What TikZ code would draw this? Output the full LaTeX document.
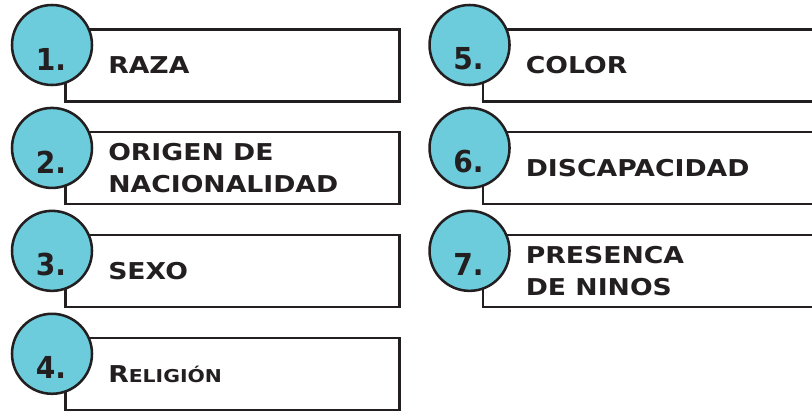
\documentclass[tikz,border=0pt]{standalone}
\usepackage{fontspec}
\usepackage{tikz}
\usetikzlibrary{positioning}
\newfontfamily\boxfont[FakeStretch=1.15]{DejaVu Sans}
\newfontfamily\numfont[FakeStretch=0.93]{DejaVu Sans}
\definecolor{ink}{RGB}{35,31,32}
\definecolor{lagoon}{RGB}{108,204,219}

\begin{document}
\begin{tikzpicture}[
    node distance=0.71cm,
    item/.style={rectangle, draw=ink, line width=1.8pt, minimum width=8.35cm, minimum height=1.8cm, inner sep=0pt},
    badge/.style={circle, draw=ink, line width=1.8pt, fill=lagoon, minimum size=2cm, inner sep=0pt},
    num/.style={font=\numfont\bfseries\fontsize{21.5}{21.5}\selectfont, text=ink, inner sep=0pt},
    lab/.style={font=\boxfont\bfseries\fontsize{16.5}{22.8}\selectfont, text=ink, align=left, inner sep=0pt, anchor=west}
]
\useasboundingbox (0,0) rectangle (20.3,-10.25);
\clip (0,0) rectangle (20.3,-10.25);

% left column
\node[item, anchor=north west] (b1) at (1.6,-0.7) {};
\node[item, below=of b1] (b2) {};
\node[item, below=of b2] (b3) {};
\node[item, below=of b3] (b4) {};

% right column, boxes run off the page
\node[item, minimum width=8.8cm, anchor=north west] (b5) at ([xshift=2.025cm]b1.north east) {};
\node[item, minimum width=8.8cm, below=of b5] (b6) {};
\node[item, minimum width=8.8cm, below=of b6] (b7) {};

% numbered badges
\node[badge] (c1) at ([shift={(-0.3,-0.425)}]b1.north west) {};
\node[num] (n1) at ([shift={(-0.025,-0.35)}]c1.center) {1.};
\node[badge] (c2) at ([shift={(-0.3,-0.425)}]b2.north west) {};
\node[num] (n2) at ([shift={(-0.025,-0.35)}]c2.center) {2.};
\node[badge] (c3) at ([shift={(-0.3,-0.425)}]b3.north west) {};
\node[num] (n3) at ([shift={(-0.025,-0.35)}]c3.center) {3.};
\node[badge] (c4) at ([shift={(-0.3,-0.425)}]b4.north west) {};
\node[num] (n4) at ([shift={(-0.025,-0.35)}]c4.center) {4.};
\node[badge] (c5) at ([shift={(-0.3,-0.425)}]b5.north west) {};
\node[num] (n5) at ([shift={(-0.025,-0.35)}]c5.center) {5.};
\node[badge] (c6) at ([shift={(-0.3,-0.425)}]b6.north west) {};
\node[num] (n6) at ([shift={(-0.025,-0.35)}]c6.center) {6.};
\node[badge] (c7) at ([shift={(-0.3,-0.425)}]b7.north west) {};
\node[num] (n7) at ([shift={(-0.025,-0.35)}]c7.center) {7.};

% labels
\node[lab] (t1) at ([xshift=1.1cm]b1.west) {RAZA};
\node[lab] (t2) at ([xshift=1.1cm]b2.west) {ORIGEN DE\\NACIONALIDAD};
\node[lab] (t3) at ([xshift=1.1cm]b3.west) {SEXO};
\node[lab] (t4) at ([xshift=1.1cm]b4.west) {R{\fontsize{12.6}{15}\selectfont ELIGIÓN}};
\node[lab] (t5) at ([xshift=1.1cm]b5.west) {COLOR};
\node[lab] (t6) at ([xshift=1.1cm]b6.west) {DISCAPACIDAD};
\node[lab] (t7) at ([xshift=1.1cm]b7.west) {PRESENCA\\DE NINOS};

\end{tikzpicture}
\end{document}
